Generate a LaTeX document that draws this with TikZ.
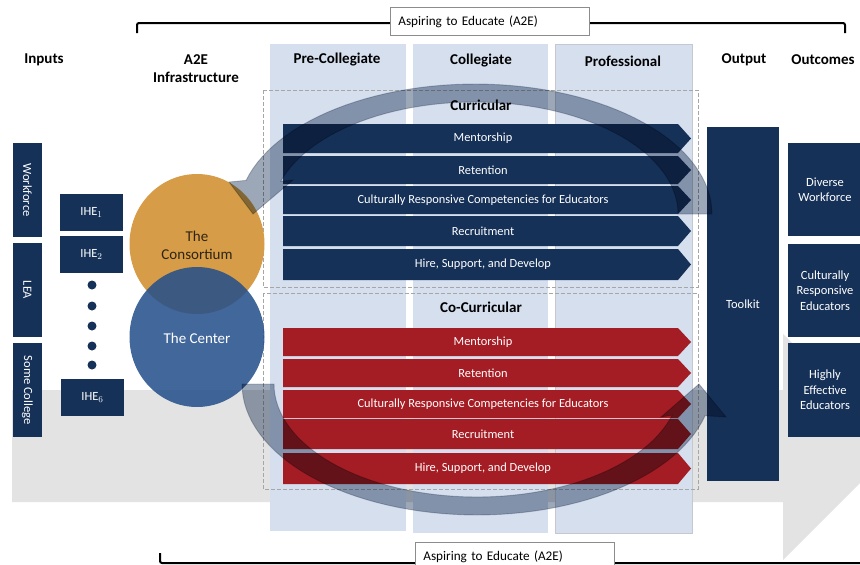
\documentclass[tikz,border=0pt]{standalone}
\usepackage{fontspec}
\setmainfont{Carlito}
\usetikzlibrary{shapes.geometric}

\definecolor{navyblue}{HTML}{163158}
\definecolor{crimson}{HTML}{A51D24}
\definecolor{colblue}{HTML}{D5DFEE}
\definecolor{groundgray}{HTML}{E3E3E3}
\definecolor{consortiumorange}{HTML}{D69C47}
\definecolor{centerblue}{HTML}{234E8B}
\definecolor{consortiumtext}{HTML}{2E2414}
\definecolor{bandfill}{HTML}{9CA7B8}
\definecolor{bandedge}{HTML}{C4C8CF}
\definecolor{dashgray}{HTML}{A6A6A6}
\definecolor{boxgray}{HTML}{8C8C8C}

% one pentagon-shaped stage arrow with its label:
% #1 name, #2 top, #3 bottom, #4 fill colour, #5 label
\newcommand{\stagearrow}[5]{%
  \fill[#4] (283,#2) -- (678,#2) -- (691,{(#2+#3)/2}) -- (678,#3) -- (283,#3) -- cycle;
  \node[stagetext] (#1) at (483,{(#2+#3)/2}) {#5};
}

\begin{document}
\begin{tikzpicture}[x=1pt, y=-1pt,
  hdr/.style={font=\fontsize{15}{18}\selectfont\bfseries, align=center, inner sep=0},
  whitetext/.style={text=white, font=\fontsize{12.5}{15.5}\selectfont, align=center, inner sep=0},
  stagetext/.style={text=white, font=\fontsize{12.4}{14}\selectfont, inner sep=0},
  navybox/.style={rectangle, fill=navyblue, inner sep=0, draw=none},
  dashbox/.style={draw=dashgray, dash pattern=on 4pt off 2pt, line width=0.8pt},
  band/.style={fill=bandfill, draw=bandedge, line width=0.9pt, blend mode=multiply},
  bracket/.style={line width=2pt, rounded corners=2pt},
  a2ebox/.style={draw=boxgray, fill=white, line width=0.8pt, text width=183pt,
    inner xsep=8pt, inner ysep=0pt, minimum height=28pt,
    font=\fontsize{13.2}{16}\selectfont, align=left},
  dot/.style={circle, fill=navyblue, minimum size=9pt, inner sep=0}
]
\useasboundingbox (0,0) rectangle (860,565);
\clip (0,0) rectangle (860,565);

% wide grey process arrow behind everything
\fill[groundgray] (12,390) -- (783,390) -- (783,334) -- (896,447) -- (783,560)
  -- (783,502) -- (12,502) -- cycle;

% stage columns
\fill[colblue] (270,44) rectangle (406,531);
\fill[colblue] (413,44) rectangle (548,533);
\fill[colblue, draw=bandedge, line width=0.6pt] (555,44) rectangle (692,533);

% column headings
\node[hdr] (hinputs) at (44,60) {Inputs};
\node[hdr] (hinfra) at (196,69) {A2E\\Infrastructure};
\node[hdr] (hpre) at (337,60) {Pre-Collegiate};
\node[hdr] (hcol) at (481,61) {Collegiate};
\node[hdr] (hpro) at (623,61) {Professional};
\node[hdr] (hout) at (744,60) {Output};
\node[hdr] (houtc) at (823,60) {Outcomes};

% curricular and co-curricular groups
\draw[dashbox] (263,90) rectangle (698,287);
\draw[dashbox] (263,293) rectangle (698,489);
\node[hdr] (curr) at (481,105) {Curricular};
\node[hdr] (cocurr) at (481,307) {Co-Curricular};

\stagearrow{cmentor}{124}{153}{navyblue}{Mentorship}
\stagearrow{cretain}{156}{184}{navyblue}{Retention}
\stagearrow{ccrc}{186}{214}{navyblue}{Culturally Responsive Competencies for Educators}
\stagearrow{crecruit}{216}{246}{navyblue}{Recruitment}
\stagearrow{chire}{249}{280}{navyblue}{Hire, Support, and Develop}

\stagearrow{kmentor}{328}{356}{crimson}{Mentorship}
\stagearrow{kretain}{359}{387}{crimson}{Retention}
\stagearrow{kcrc}{390}{418}{crimson}{Culturally Responsive Competencies for Educators}
\stagearrow{krecruit}{419}{449}{crimson}{Recruitment}
\stagearrow{khire}{453}{484}{crimson}{Hire, Support, and Develop}

% inputs
\node[navybox, minimum width=29pt, minimum height=94pt] (workforce) at (27.5,190) {};
\node[whitetext, rotate=-90] at (workforce) {Workforce};
\node[navybox, minimum width=29pt, minimum height=94pt] (lea) at (27.5,290) {};
\node[whitetext, rotate=-90] at (lea) {LEA};
\node[navybox, minimum width=29pt, minimum height=94pt] (somecollege) at (27.5,390) {};
\node[whitetext, rotate=-90] at (somecollege) {Some College};

% institutions of higher education
\node[navybox, minimum width=63pt, minimum height=37pt, whitetext] (ihe1) at (91.5,212.5) {IHE$_1$};
\node[navybox, minimum width=63pt, minimum height=37pt, whitetext] (ihe2) at (91.5,254.5) {IHE$_2$};
\node[navybox, minimum width=63pt, minimum height=37pt, whitetext] (ihe6) at (92.5,397.5) {IHE$_6$};
\node[dot] (d1) at (92,285) {};
\node[dot] (d2) at (92,306) {};
\node[dot] (d3) at (92,326) {};
\node[dot] (d4) at (92,346) {};
\node[dot] (d5) at (92,365) {};

% A2E infrastructure
\node[ellipse, fill=consortiumorange, minimum width=135pt, minimum height=140pt, inner sep=0] (consortium) at (197,244) {};
\node[ellipse, fill=centerblue, fill opacity=0.86, minimum width=135pt, minimum height=140pt, inner sep=0] (center) at (197,337) {};
\node[text=consortiumtext, font=\fontsize{15}{18}\selectfont, align=center, inner sep=0] (constext) at (197,245) {The\\Consortium};
\node[text=white, font=\fontsize{15}{18}\selectfont, inner sep=0] (centertext) at (197,338) {The Center};

% output
\node[navybox, minimum width=72pt, minimum height=354pt, whitetext] (toolkit) at (743,304) {Toolkit};

% outcomes
\node[navybox, minimum width=74pt, minimum height=93pt, whitetext] (diverse) at (825,189.5) {Diverse\\Workforce};
\node[navybox, minimum width=74pt, minimum height=93pt, whitetext] (responsive) at (825,290.5) {Culturally\\Responsive\\Educators};
\node[navybox, minimum width=74pt, minimum height=94pt, whitetext] (effective) at (825,390) {Highly\\Effective\\Educators};

% upper cycle arrow, returning to the consortium
\path[band]
  plot[domain=0:165, samples=60] ({475+237*cos(\x)}, {214-130*sin(\x)})
  -- (229,182) -- (253,214) -- (293,180)
  -- plot[domain=0:163, samples=60] ({475+203*cos(163-\x)}, {214-112*sin(163-\x)})
  -- cycle;

% lower cycle arrow, leading out to the toolkit
\path[band]
  plot[domain=0:166, samples=60] ({477+235*cos(180-\x)}, {384+131*sin(180-\x)})
  -- (726,417) -- (699,384) -- (661,417)
  -- plot[domain=0:164, samples=60] ({477+203*cos(16+\x)}, {384+113*sin(16+\x)})
  -- cycle;

% programme brackets
\draw[bracket] (137,33) -- (137,23) -- (845,23) -- (845,33);
\node[a2ebox, anchor=north west] (a2etop) at (390,7) {Aspiring to Educate (A2E)};
\draw[bracket] (160,553) -- (160,563) -- (870,563);
\node[a2ebox, anchor=north west] (a2ebottom) at (415,542) {Aspiring to Educate (A2E)};
\end{tikzpicture}
\end{document}
